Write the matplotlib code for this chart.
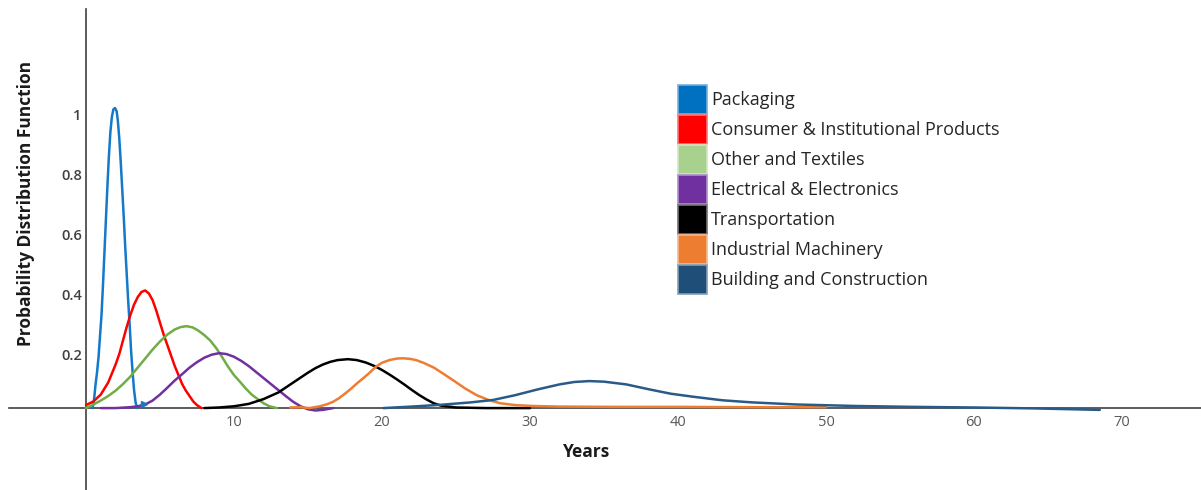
import matplotlib
matplotlib.use("Agg")
import matplotlib.pyplot as plt
import matplotlib.colors as mcolors
from matplotlib.patches import Patch
from matplotlib.transforms import ScaledTranslation

plt.rcParams["font.family"] = ["Open Sans", "DejaVu Sans"]

# values
packaging_x = [0.45, 0.55, 0.65, 0.75, 0.85, 0.95, 1.05, 1.15, 1.25, 1.35, 1.45, 1.55, 1.65, 1.75,
               1.85, 1.96, 2.07, 2.15, 2.25, 2.35, 2.45, 2.55, 2.65, 2.75, 2.85, 2.95, 3.05, 3.15,
               3.25, 3.35, 3.45]
packaging_y = [0.0, 0.03, 0.08, 0.12, 0.17, 0.24, 0.31, 0.41, 0.52, 0.63, 0.74, 0.84, 0.92, 0.97,
               0.995, 1.0, 0.99, 0.96, 0.9, 0.82, 0.73, 0.64, 0.54, 0.45, 0.36, 0.28, 0.19, 0.12,
               0.06, 0.02, 0.0]

consumer_x = [0, 0.5, 1.0, 1.5, 2.0, 2.25, 2.5, 2.75, 3.0, 3.25, 3.5, 3.75, 4.0, 4.25, 4.5, 4.75,
              5.0, 5.25, 5.5, 5.75, 6.0, 6.25, 6.5, 6.75, 7.0, 7.25, 7.5, 7.8]
consumer_y = [0.01, 0.022, 0.045, 0.085, 0.145, 0.18, 0.225, 0.27, 0.31, 0.345, 0.37, 0.387, 0.392,
              0.382, 0.36, 0.325, 0.285, 0.245, 0.21, 0.175, 0.14, 0.11, 0.08, 0.058, 0.04, 0.022,
              0.01, 0.0]

other_x = [0, 0.5, 1, 1.5, 2, 2.5, 3, 3.5, 4, 4.5, 5, 5.5, 6, 6.4, 6.8, 7.2, 7.6, 8.0, 8.4, 8.8,
           9.2, 9.6, 10.0, 10.4, 10.8, 11.2, 11.6, 12.0, 12.4, 12.9]
other_y = [0, 0.012, 0.025, 0.04, 0.058, 0.08, 0.105, 0.135, 0.165, 0.195, 0.222, 0.245, 0.262, 0.27,
           0.273, 0.269, 0.258, 0.243, 0.225, 0.2, 0.17, 0.138, 0.11, 0.088, 0.065, 0.045, 0.03,
           0.016, 0.006, 0.0]

electrical_x = [1.0, 2.0, 3.0, 3.5, 4.0, 4.5, 5.0, 5.5, 6.0, 6.5, 7.0, 7.5, 8.0, 8.5, 9.0, 9.5, 10.0,
                10.5, 11.0, 11.5, 12.0, 12.5, 13.0, 13.5, 14.0, 14.5, 15.0, 15.5, 16.0, 16.7]
electrical_y = [0, 0, 0.003, 0.006, 0.012, 0.025, 0.045, 0.068, 0.092, 0.113, 0.135, 0.153, 0.168, 0.178,
                0.183, 0.18, 0.171, 0.157, 0.14, 0.12, 0.1, 0.08, 0.06, 0.04, 0.021, 0.006, -0.004,
                -0.008, -0.006, 0.0]

transport_x = [8.0, 9.0, 10.0, 11.0, 12.0, 13.0, 14.0, 15.0, 15.5, 16.0, 16.5, 17.0, 17.7, 18.3, 18.9,
               19.5, 20.0, 20.5, 21.0, 21.5, 22.0, 22.5, 23.0, 23.5, 24.0, 25.0, 27.0, 30.0]
transport_y = [0.0, 0.002, 0.006, 0.014, 0.03, 0.052, 0.085, 0.118, 0.133, 0.145, 0.154, 0.16, 0.163,
               0.16, 0.152, 0.14, 0.127, 0.112, 0.096, 0.079, 0.061, 0.044, 0.029, 0.016, 0.008,
               0.002, 0.0, 0.0]

industrial_x = [13.8, 14.5, 15.1, 15.8, 16.3, 16.7, 17.1, 17.5, 17.9, 18.3, 18.7, 19.1, 19.6, 20.0,
                20.5, 21.0, 21.4, 21.9, 22.3, 22.8, 23.5, 24.1, 24.8, 25.6, 26.4, 27.2, 28.0, 29.0,
                30.2, 32.0, 36.0, 40.0, 45.0, 50.0]
industrial_y = [0.002, 0.003, 0.0, 0.006, 0.013, 0.021, 0.033, 0.048, 0.064, 0.082, 0.098, 0.115,
                0.138, 0.151, 0.16, 0.165, 0.166, 0.164, 0.16, 0.151, 0.135, 0.116, 0.093, 0.066,
                0.043, 0.027, 0.016, 0.01, 0.007, 0.005, 0.004, 0.004, 0.003, 0.003]

building_x = [20.1, 22, 24, 26, 27.5, 29, 30.5, 32, 33, 34, 35, 36.5, 38, 39.5, 41, 43, 45, 48, 52, 56,
              60, 64, 68.5]
building_y = [0.0, 0.005, 0.011, 0.019, 0.027, 0.043, 0.062, 0.079, 0.087, 0.09, 0.088, 0.079, 0.063,
              0.048, 0.038, 0.026, 0.019, 0.012, 0.007, 0.004, 0.002, -0.001, -0.006]

labels = ["Packaging", "Consumer & Institutional Products", "Other and Textiles",
          "Electrical & Electronics", "Transportation", "Industrial Machinery",
          "Building and Construction"]
legend_colors = ["#0070C0", "#FF0000", "#A9D18E", "#7030A0", "#000000", "#ED7D31", "#1F4E79"]
line_colors = ["#1479C9", "#FF0000", "#70AD47", "#7030A0", "#000000", "#ED7D31", "#2A5A88"]

x_ticks = [10, 20, 30, 40, 50, 60, 70]
y_ticks = [0.2, 0.4, 0.6, 0.8, 1.0]
y_tick_labels = ["0.2", "0.4", "0.6", "0.8", "1"]

series = [(packaging_x, packaging_y), (consumer_x, consumer_y), (other_x, other_y),
          (electrical_x, electrical_y), (transport_x, transport_y),
          (industrial_x, industrial_y), (building_x, building_y)]

fig = plt.figure(figsize=(12.01, 4.90), dpi=100)
ax = fig.add_axes([9 / 1201, 0, 1 - 9 / 1201, 481 / 490])
ax.set_xlim(-5.2, 75.34)
ax.set_ylim(-0.273, 1.33)

for i, (xs, ys) in enumerate(series):
    ax.plot(xs, ys, color=line_colors[i], lw=1.8, solid_joinstyle="round",
            solid_capstyle="round", zorder=3)

# little blue mark at the end of the packaging curve
ax.plot([3.9], [0.015], marker=">", ms=4, color=line_colors[0], zorder=3)

for side in ["top", "right"]:
    ax.spines[side].set_visible(False)
for side in ["left", "bottom"]:
    ax.spines[side].set_position(("data", 0))
    ax.spines[side].set_color("#404040")
    ax.spines[side].set_linewidth(1.2)

ax.set_xticks(x_ticks)
ax.set_xticklabels([str(t) for t in x_ticks], color="#595959", fontsize=10.5)
ax.set_yticks(y_ticks)
ax.set_yticklabels(y_tick_labels, color="#404040", fontsize=10.5, fontweight="semibold")
ax.tick_params(axis="both", length=0)
ax.tick_params(axis="x", pad=5)
ax.tick_params(axis="y", pad=3)
shift = ScaledTranslation(0, -0.06, fig.dpi_scale_trans)
for lab in ax.get_yticklabels():
    lab.set_transform(lab.get_transform() + shift)

fig.text(587 / 1201, 1 - 452 / 490, "Years", ha="center", va="center",
         fontsize=12.5, fontweight="bold", color="#1a1a1a")
fig.text(26 / 1201, 1 - 203 / 490, "Probability Distribution Function", ha="center", va="center",
         rotation=90, fontsize=12.5, fontweight="bold", color="#1a1a1a")

handles = []
for c in legend_colors:
    rgb = mcolors.to_rgb(c)
    edge = tuple(0.55 * v + 0.45 for v in rgb)
    handles.append(Patch(facecolor=c, edgecolor=edge, linewidth=1.2))

ax.legend(handles, labels, loc="upper left", bbox_to_anchor=(678 / 1201, 1 - 85 / 490),
          bbox_transform=fig.transFigure, frameon=False, borderpad=0, borderaxespad=0,
          fontsize=13, handlelength=1.6, handleheight=2.09, labelspacing=0.06,
          handletextpad=0.22, labelcolor="#262626")

fig.savefig("out.png", dpi=100)
